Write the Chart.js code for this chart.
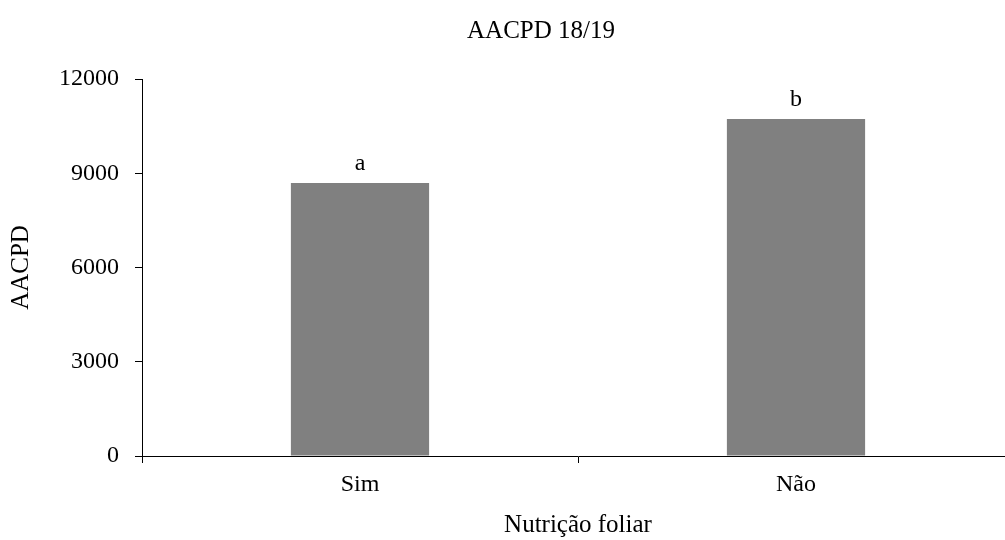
<!DOCTYPE html>
<html>
<head>
<meta charset="utf-8">
<script src="https://cdn.jsdelivr.net/npm/chart.js@4/dist/chart.umd.min.js"></script>
<style>
  html, body { margin: 0; padding: 0; background: #fff; overflow: hidden; }
  #wrap { width: 1014px; height: 540px; }
</style>
</head>
<body>
<div id="wrap"><canvas id="aacpdChart" width="1014" height="540"></canvas></div>
<script>
const categories = ['Sim', 'Não'];
const aacpdValues = [8690, 10730];
const letters = ['a', 'b'];
const yTicks = [0, 3000, 6000, 9000, 12000];

const serif = "'Liberation Serif', 'Times New Roman', serif";

// letras de significancia sobre as barras + titulo
const extras = {
  id: 'extras',
  afterDatasetsDraw(chart) {
    const ctx = chart.ctx;
    const meta = chart.getDatasetMeta(0);
    ctx.save();
    ctx.fillStyle = '#000';
    ctx.font = '24px ' + serif;
    ctx.textAlign = 'center';
    ctx.textBaseline = 'alphabetic';
    meta.data.forEach((bar, i) => {
      ctx.fillText(letters[i], bar.x, bar.y - 13);
    });
    ctx.font = '25px ' + serif;
    ctx.textBaseline = 'middle';
    const area = chart.chartArea;
    ctx.fillText('AACPD 18/19', (area.left + area.right) / 2 - 37, 31);
    ctx.restore();
  }
};

new Chart(document.getElementById('aacpdChart'), {
  type: 'bar',
  data: {
    labels: categories,
    datasets: [{
      label: 'AACPD',
      data: aacpdValues,
      backgroundColor: '#808080',
      borderWidth: 0,
      categoryPercentage: 1,
      barPercentage: 0.317
    }]
  },
  options: {
    responsive: false,
    animation: false,
    devicePixelRatio: 1,
    layout: { padding: { top: 79, left: 0, right: 0, bottom: 0 } },
    plugins: {
      legend: { display: false },
      title: { display: false },
      tooltip: { enabled: false }
    },
    scales: {
      x: {
        afterFit(scale) { scale.height = 84; },
        grid: { offset: true, drawOnChartArea: false, tickLength: 7, color: '#000', lineWidth: 1 },
        border: { color: '#000', width: 1 },
        ticks: { color: '#000', padding: 7, font: { family: serif, size: 24 } },
        title: {
          display: true,
          text: 'Nutrição foliar',
          color: '#000',
          padding: { top: 0, bottom: 0 },
          font: { family: serif, size: 25 }
        }
      },
      y: {
        min: 0,
        max: 12000,
        afterFit(scale) { scale.width = 142; },
        afterBuildTicks(scale) { scale.ticks = yTicks.map(v => ({ value: v })); },
        grid: { drawOnChartArea: false, tickLength: 7, color: '#000', lineWidth: 1 },
        border: { color: '#000', width: 1 },
        ticks: {
          color: '#000',
          padding: 16,
          font: { family: serif, size: 24 },
          callback: (v) => String(v)
        },
        title: {
          display: true,
          text: 'AACPD',
          color: '#000',
          padding: { top: 6, bottom: 0 },
          font: { family: serif, size: 25 }
        }
      }
    }
  },
  plugins: [extras]
});
</script>
</body>
</html>
